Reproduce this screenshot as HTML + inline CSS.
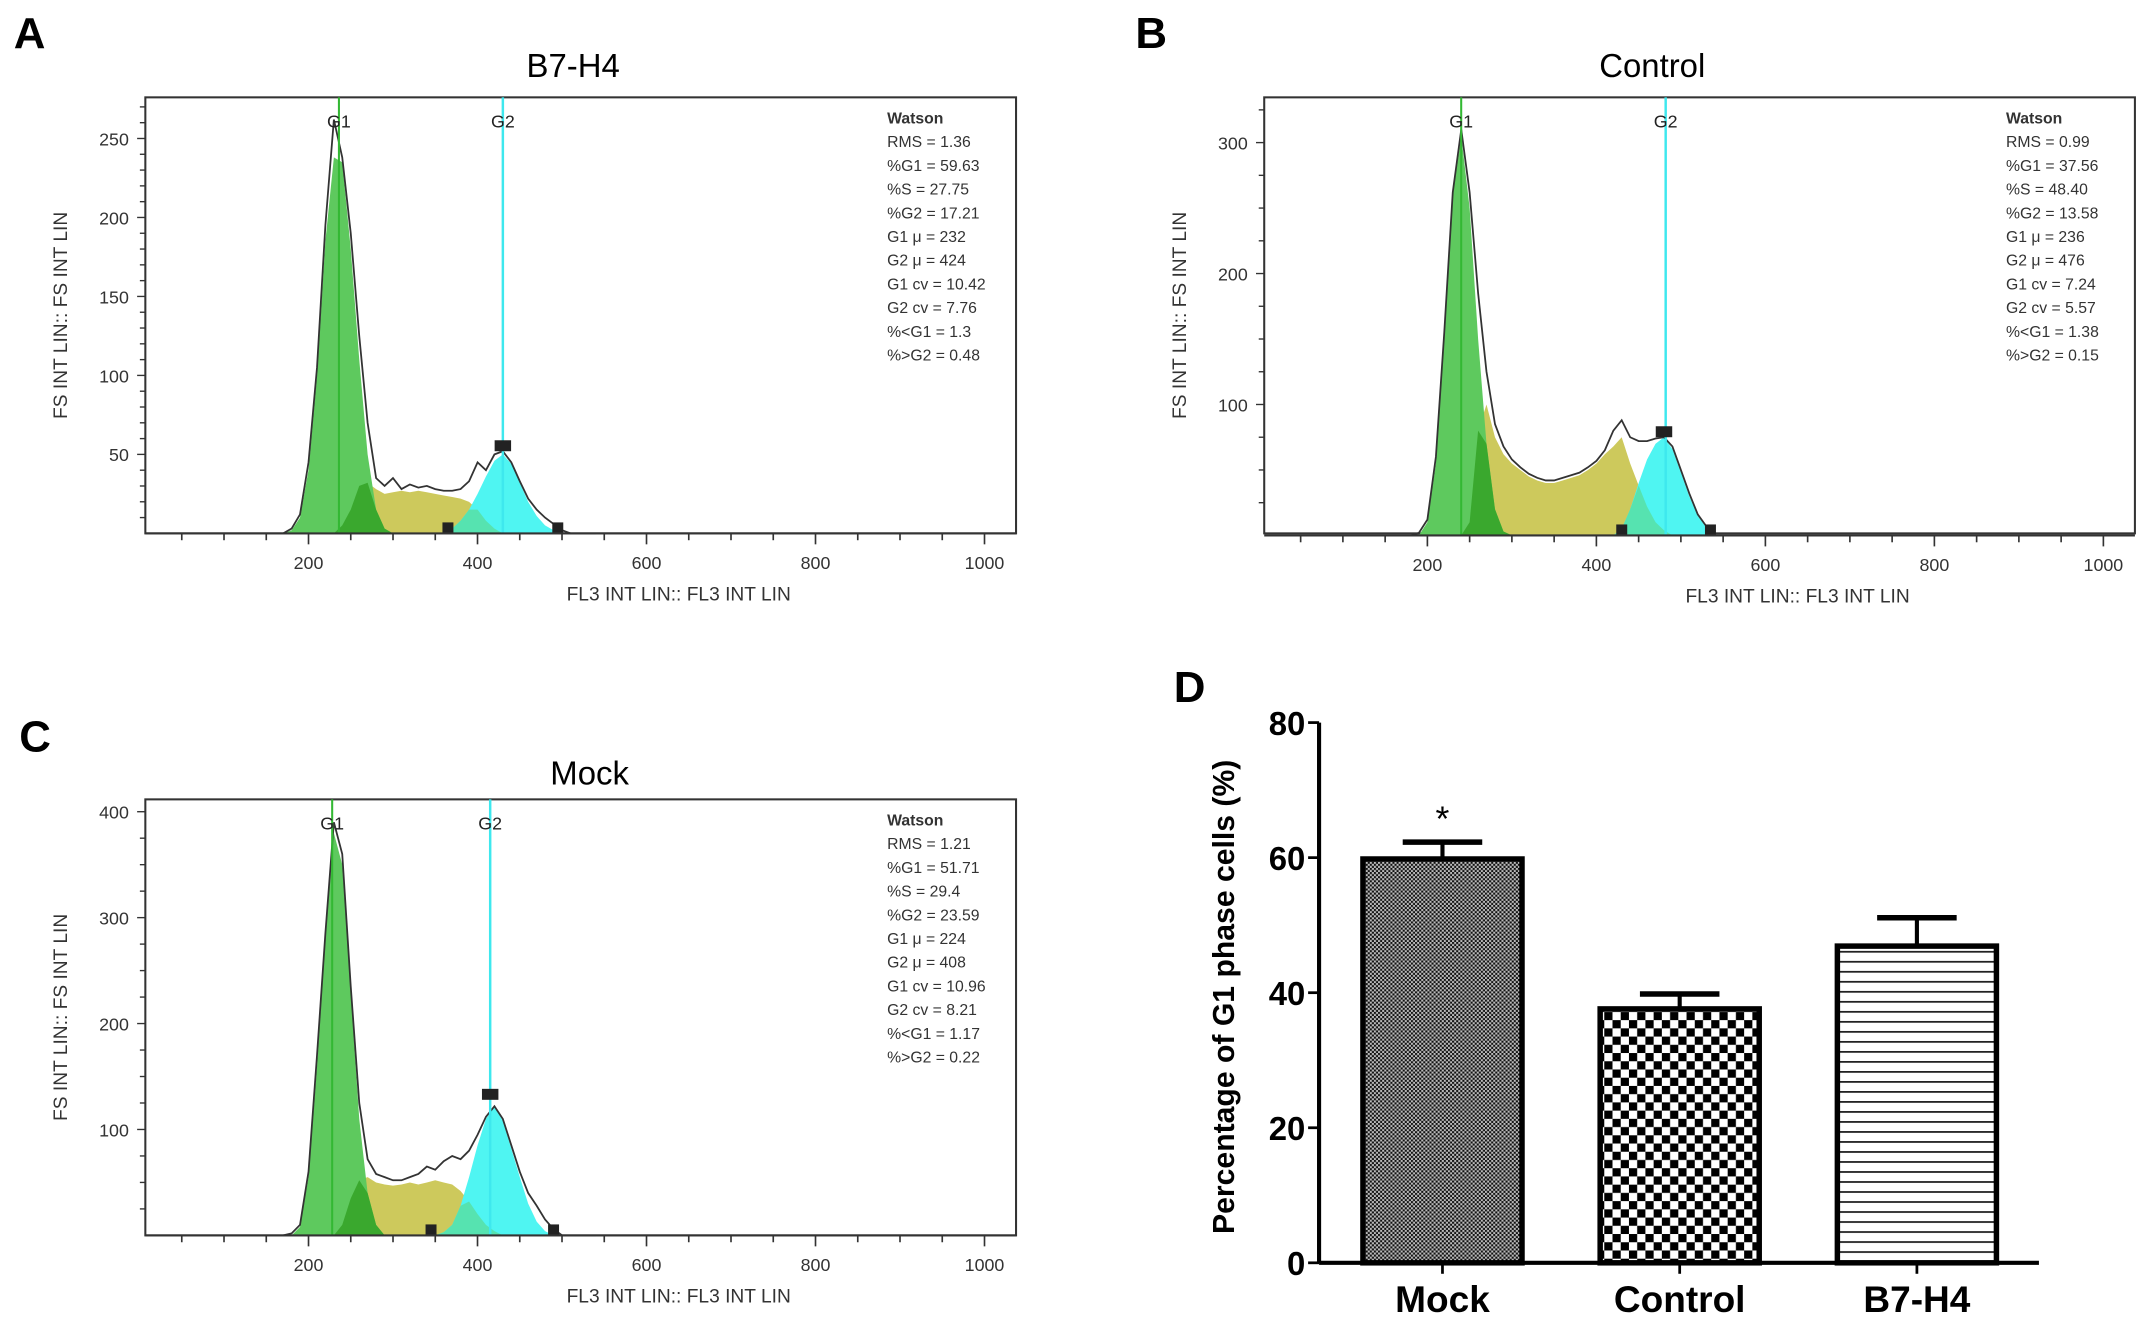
<!DOCTYPE html>
<html><head><meta charset="utf-8"><style>
html,body{margin:0;padding:0;background:#fff}
svg{display:block}
text{font-family:"Liberation Sans",Arial,sans-serif}
</style></head><body>
<svg id="fig" xmlns="http://www.w3.org/2000/svg" width="2150" height="1330" viewBox="0 0 1568 970" preserveAspectRatio="none">
<defs>
<pattern id="patMock" width="3" height="3" patternUnits="userSpaceOnUse"><rect width="3" height="3" fill="#bbb"/><rect width="1.5" height="1.5" fill="#111"/><rect x="1.5" y="1.5" width="1.5" height="1.5" fill="#111"/></pattern>
<pattern id="patCtrl" width="12" height="12" patternUnits="userSpaceOnUse"><rect width="12" height="12" fill="#fff"/><rect width="6" height="6" fill="#000"/><rect x="6" y="6" width="6" height="6" fill="#000"/></pattern>
<pattern id="patB7" width="10" height="7.3" patternUnits="userSpaceOnUse"><rect width="10" height="7.3" fill="#fff"/><rect y="0" width="10" height="1.3" fill="#222"/></pattern>
</defs>
<g id="root"></g>
</svg>
<script>
// ---- Histogram data (shared x grid) ----
const binX = [170,180,190,200,210,220,230,240,250,260,270,280,290,300,310,320,330,340,350,360,370,380,390,400,410,420,430,440,450,460,470,480,490,500,510,520,530,540];
const aG1 = [0,2,10,40,100,185,238,235,180,110,50,15,3,0,0,0,0,0,0,0,0,0,0,0,0,0,0,0,0,0,0,0,0,0,0,0,0,0];
const aS  = [0,0,0,0,0,0,0,5,15,30,32,28,25,26,27,26,27,26,25,24,23,22,20,15,8,3,0,0,0,0,0,0,0,0,0,0,0,0];
const aG2 = [0,0,0,0,0,0,0,0,0,0,0,0,0,0,0,0,0,0,0,0,3,8,15,25,36,46,50,44,32,20,11,5,2,0,0,0,0,0];
const aTot= [0,3,12,45,105,195,262,238,190,125,70,35,30,35,28,31,29,30,28,27,27,28,33,45,40,50,52,45,33,22,15,10,6,2,0,0,0,0];
const bG1 = [0,0,0,10,55,150,260,305,250,150,70,20,3,0,0,0,0,0,0,0,0,0,0,0,0,0,0,0,0,0,0,0,0,0,0,0,0,0];
const bS  = [0,0,0,0,0,0,0,0,10,80,100,75,62,55,50,45,42,40,40,42,44,46,50,55,62,68,75,55,38,22,10,4,0,0,0,0,0,0];
const bG2 = [0,0,0,0,0,0,0,0,0,0,0,0,0,0,0,0,0,0,0,0,0,0,0,0,0,0,5,20,40,58,70,75,66,48,30,15,6,0];
const bTot= [0,0,2,12,60,155,262,310,262,185,125,85,68,58,52,47,44,42,42,44,46,48,52,57,65,80,88,75,72,72,74,75,68,50,32,16,7,0];
const cG1 = [0,0,8,55,160,280,380,350,230,110,40,10,0,0,0,0,0,0,0,0,0,0,0,0,0,0,0,0,0,0,0,0,0,0,0,0,0,0];
const cS  = [0,0,0,0,0,0,0,10,35,52,55,50,48,47,48,50,48,50,52,50,48,42,32,20,10,4,0,0,0,0,0,0,0,0,0,0,0,0];
const cG2 = [0,0,0,0,0,0,0,0,0,0,0,0,0,0,0,0,0,0,0,3,10,28,55,85,110,122,108,82,55,30,13,4,0,0,0,0,0,0];
const cTot= [0,2,10,60,170,285,390,360,235,125,72,58,55,52,52,55,58,65,62,70,75,72,80,95,112,122,110,85,60,40,28,15,6,0,0,0,0,0];
const xTicks = [200,400,600,800,1000];
// ---- Bar chart data ----
const barCats = ["Mock","Control","B7-H4"];
const barVals = [59.8,37.6,46.9];
const barErr  = [2.5,2.2,4.2];
const barYTicks = [0,20,40,60,80];

const NS="http://www.w3.org/2000/svg";
const root=document.getElementById('root');
function el(tag,attrs,parent,txt){const e=document.createElementNS(NS,tag);for(const k in attrs)e.setAttribute(k,attrs[k]);if(txt!==undefined)e.textContent=txt;(parent||root).appendChild(e);return e;}

const panels=[
 {id:'a',letter:'A',lx:10,ly:35,title:'B7-H4',tx:418,ty:56,bx:106,by:71,bw:635,bh:318,y0:389,yk:(101-389)/250,yT:[50,100,150,200,250],yMinor:10,ymax:276,
  g1:aG1,s:aS,g2:aG2,tot:aTot,g1line:236,g2line:430,sq:[[365,0],[495,0],[430,52]],
  stats:['Watson','RMS = 1.36','%G1 = 59.63','%S = 27.75','%G2 = 17.21','G1 μ = 232','G2 μ = 424','G1 cv = 10.42','G2 cv = 7.76','%<G1 = 1.3','%>G2 = 0.48']},
 {id:'b',letter:'B',lx:828,ly:35,title:'Control',tx:1205,ty:56,bx:922,by:71,bw:635,bh:318,y0:390.5,yk:(104-390.5)/300,yT:[100,200,300],yMinor:25,ymax:335,
  g1:bG1,s:bS,g2:bG2,tot:bTot,g1line:240,g2line:482,sq:[[430,0],[535,0],[480,75]],
  stats:['Watson','RMS = 0.99','%G1 = 37.56','%S = 48.40','%G2 = 13.58','G1 μ = 236','G2 μ = 476','G1 cv = 7.24','G2 cv = 5.57','%<G1 = 1.38','%>G2 = 0.15']},
 {id:'c',letter:'C',lx:14,ly:548,title:'Mock',tx:430,ty:572,bx:106,by:583,bw:635,bh:318,y0:901,yk:(592-901)/400,yT:[100,200,300,400],yMinor:25,ymax:412,
  g1:cG1,s:cS,g2:cG2,tot:cTot,g1line:228,g2line:415,sq:[[345,0],[490,0],[415,128]],
  stats:['Watson','RMS = 1.21','%G1 = 51.71','%S = 29.4','%G2 = 23.59','G1 μ = 224','G2 μ = 408','G1 cv = 10.96','G2 cv = 8.21','%<G1 = 1.17','%>G2 = 0.22']}
];

panels.forEach(p=>{
  const xs=v=>p.bx-4.25+ (v)*(123.25/200)*(p.bw/635);
  const ys=v=>p.y0+v*p.yk;
  const g=el('g',{});
  
  
  const L=el('text',{x:p.lx,y:p.ly,'font-size':32,'font-weight':'bold'},g,p.letter);
  
  const T=el('text',{x:p.tx,y:p.ty,'font-size':24,'text-anchor':'middle'},g,p.title);
  
  const box=el('rect',{x:p.bx,y:p.by,width:p.bw,height:p.bh,fill:'#fff',stroke:'#333','stroke-width':1.5},g);
  
  function area(arr,fill,name,op){
    let d='M'+xs(binX[0])+','+ys(0);
    arr.forEach((v,i)=>{d+=' L'+xs(binX[i]).toFixed(1)+','+ys(v).toFixed(1);});
    d+=' L'+xs(binX[binX.length-1])+','+ys(0)+'Z';
    const e=el('path',{d:d,fill:fill,'fill-opacity':op||1,stroke:'none'},g);
    
  }
  const mn=(a,b)=>a.map((v,i)=>Math.min(v,b[i]));
  area(p.s,'#cdc95c','s-phase-area');
  area(p.g1,'#5ec95e','g1-phase-area');
  area(p.g2,'#4ff5f2','g2-phase-area');
  area(mn(p.g1,p.s),'#3aa82e','g1-s-overlap');
  area(mn(p.s,p.g2),'#56e3b0','s-g2-overlap');
  let d='';p.tot.forEach((v,i)=>{d+=(i?' L':'M')+xs(binX[i]).toFixed(1)+','+ys(v).toFixed(1);});
  const ln=el('path',{d:d,fill:'none',stroke:'#333','stroke-width':1.3},g);
  
  const v1=el('line',{x1:xs(p.g1line),x2:xs(p.g1line),y1:p.by,y2:p.y0,stroke:'#33b833','stroke-width':1.5},g);
  
  const v2=el('line',{x1:xs(p.g2line),x2:xs(p.g2line),y1:p.by,y2:p.y0,stroke:'#3ee8ee','stroke-width':1.8},g);
  
  const t1=el('text',{x:xs(p.g1line),y:p.by+22,'font-size':13,'text-anchor':'middle',fill:'#222'},g,'G1');
  
  const t2=el('text',{x:xs(p.g2line),y:p.by+22,'font-size':13,'text-anchor':'middle',fill:'#222'},g,'G2');
  
  p.sq.forEach(s=>{
    const w=s[1]>0?12:8;
    const r=el('rect',{x:xs(s[0])-w/2,y:ys(s[1])-8,width:w,height:8,fill:'#222'},g);
    
  });
  const xa=el('line',{x1:p.bx,x2:p.bx+p.bw,y1:p.y0,y2:p.y0,stroke:'#333','stroke-width':1.5},g);
  
  for(let v=50;v<=1000;v+=50){
    const major=v%200===0;
    el('line',{x1:xs(v),x2:xs(v),y1:p.y0,y2:p.y0+(major?8:5),stroke:'#333','stroke-width':1.2},g);
  }
  xTicks.forEach(v=>{const t=el('text',{x:xs(v),y:p.y0+26,'font-size':13,'text-anchor':'middle',fill:'#333'},g,v);
    });
  for(let v=p.yMinor;v<=p.ymax;v+=p.yMinor){
    const major=p.yT.indexOf(v)>=0;
    el('line',{x1:p.bx-(major?6:4),x2:p.bx,y1:ys(v),y2:ys(v),stroke:'#333','stroke-width':1},g);
  }
  p.yT.forEach(v=>{const t=el('text',{x:p.bx-12,y:ys(v)+5,'font-size':13,'text-anchor':'end',fill:'#333'},g,v);
    });
  const xt=el('text',{x:p.bx+389,y:p.y0+49,'font-size':14,'text-anchor':'middle',fill:'#333'},g,'FL3 INT LIN:: FL3 INT LIN');
  
  const cy=p.by+159, cx=p.bx-57;
  const yt=el('text',{x:cx,y:cy,'font-size':14,'text-anchor':'middle',fill:'#333',transform:'rotate(-90 '+cx+' '+cy+')'},g,'FS INT LIN:: FS INT LIN');
  
  p.stats.forEach((s,i)=>{const t=el('text',{x:p.bx+541,y:p.by+19+i*17.3,'font-size':11.5,'font-weight':i===0?'bold':'normal',fill:'#333'},g,s);
    });
});

// ---- Panel D bar chart ----
(function(){
  const g=el('g',{});
  
  
  const ax0=962, ybase=921, ytop=527;
  const ys=v=>ybase-(v/80)*(ybase-ytop);
  const barW=116, slot=173, firstX=994;
  const xs=i=>firstX+i*slot;
  const L=el('text',{x:856,y:512,'font-size':32,'font-weight':'bold'},g,'D');
  
  const pats=['url(#patMock)','url(#patCtrl)','url(#patB7)'];
  barCats.forEach((c,i)=>{
    const x=xs(i), y=ys(barVals[i]), ye=ys(barVals[i]+barErr[i]);
    const eb=el('line',{x1:x+barW/2,x2:x+barW/2,y1:y,y2:ye,stroke:'#000','stroke-width':3},g);
    
    const cap=el('line',{x1:x+barW/2-29,x2:x+barW/2+29,y1:ye,y2:ye,stroke:'#000','stroke-width':4},g);
    
    const r=el('rect',{x:x,y:y,width:barW,height:ybase-y,fill:pats[i],stroke:'#000','stroke-width':4},g);
    
    const t=el('text',{x:x+barW/2,y:ybase+36,'font-size':27,'font-weight':'bold','text-anchor':'middle'},g,c);
    
    el('line',{x1:x+barW/2,x2:x+barW/2,y1:ybase,y2:ybase+8,stroke:'#000','stroke-width':2},g);
  });
  const st=el('text',{x:xs(0)+barW/2,y:ys(barVals[0]+barErr[0])-8,'font-size':26,'text-anchor':'middle'},g,'*');
  
  const ya=el('line',{x1:ax0,x2:ax0,y1:ytop,y2:ybase,stroke:'#000','stroke-width':3},g);
  
  const xa=el('line',{x1:ax0,x2:1487,y1:ybase,y2:ybase,stroke:'#000','stroke-width':3},g);
  
  barYTicks.forEach(v=>{
    el('line',{x1:ax0-8,x2:ax0,y1:ys(v),y2:ys(v),stroke:'#000','stroke-width':2},g);
    const t=el('text',{x:ax0-10,y:ys(v)+9,'font-size':24,'font-weight':'bold','text-anchor':'end'},g,v);
    
  });
  const cx=900, cy=727;
  const yt=el('text',{x:cx,y:cy,'font-size':22,'font-weight':'bold','text-anchor':'middle',transform:'rotate(-90 '+cx+' '+cy+')'},g,'Percentage of G1  phase cells (%)');
  
})();
</script>
</body></html>
